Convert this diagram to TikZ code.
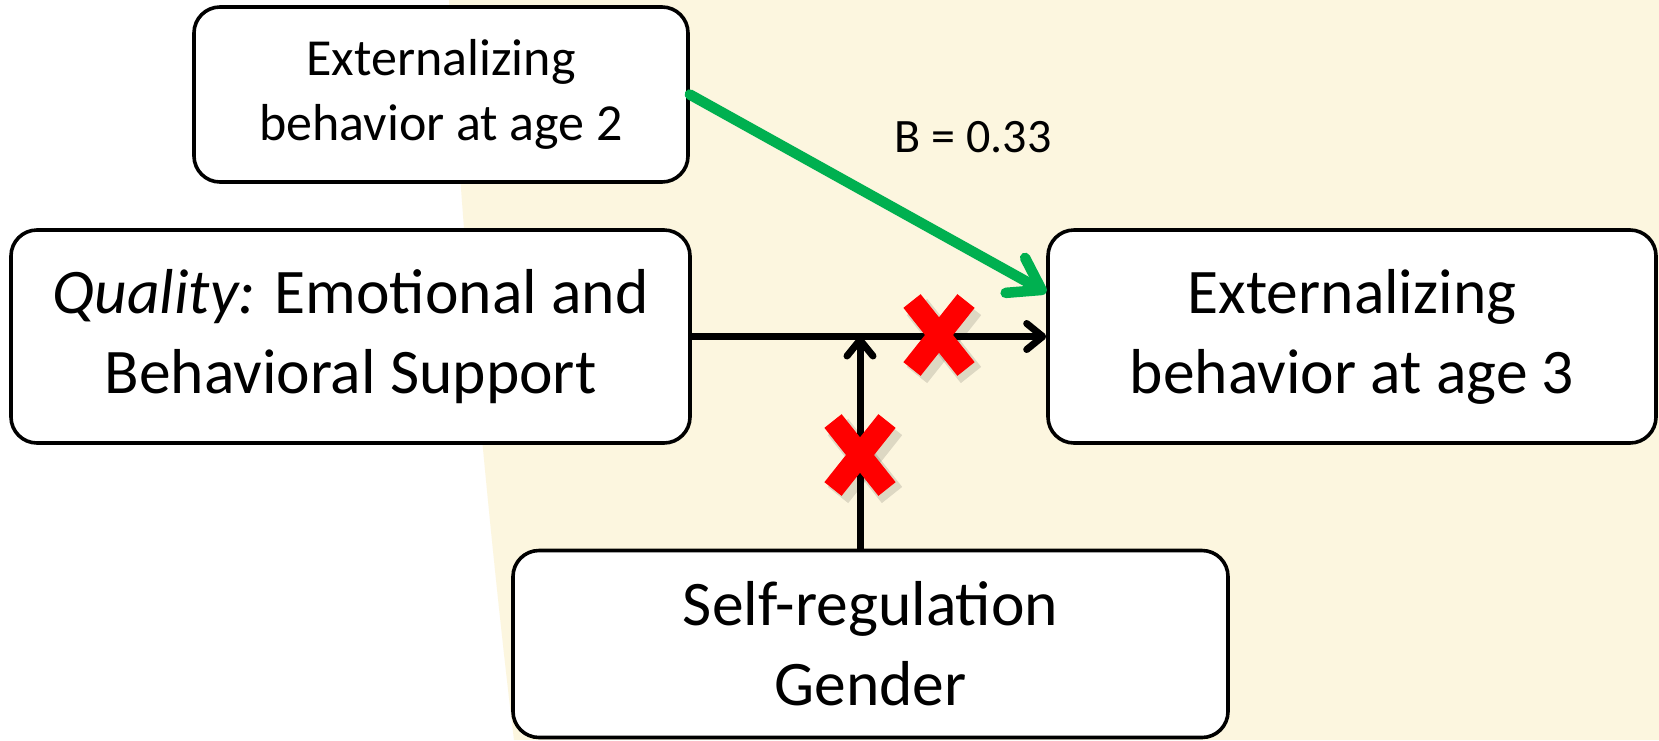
\documentclass[tikz,border=0pt]{standalone}
\usepackage{fontspec}
\setmainfont{Carlito}
\usetikzlibrary{arrows.meta}
\definecolor{cream}{RGB}{252,246,223}
\definecolor{pptgreen}{RGB}{0,176,80}
\tikzset{
  box/.style={draw, line width=3.6pt, rounded corners=26pt, fill=white, align=center, inner sep=0pt},
  bigtext/.style={font=\fontsize{63.5}{80}\selectfont},
  smalltext/.style={font=\fontsize{52}{65}\selectfont},
  link/.style={line width=7pt, -{Straight Barb[length=16pt,width=26pt,round]}},
  effect/.style={pptgreen, line width=10.5pt, line cap=round, -{Straight Barb[length=30pt,width=40pt,round]}},
  crossbar/.style={red, line width=22pt},
  crossshade/.style={black, opacity=0.12, line width=26pt}
}
\begin{document}
\begin{tikzpicture}[x=1pt,y=-1pt]
        \useasboundingbox (0,0) rectangle (1659,740);
        \fill[white] (0,0) rectangle (1659,740);
        \fill[cream] (449,0) .. controls (462,250) and (492,560) .. (514,740) -- (1659,740) -- (1659,0) -- cycle;
        % boxes
        \node[box, smalltext, minimum width=494pt, minimum height=175pt] (agetwo) at (441,94.5) {Externalizing\\behavior at age 2};
        \foreach \x/\y/\w/\h/\n/\l in {350.5/336.5/679/213/quality/{\textit{Quality:} Emotional and\\Behavioral Support},1352/336.5/608/213/agethree/{Externalizing\\behavior at age 3},870.5/644/715/187/selfreg/{Self-regulation\\Gender}}{
            \node[box, bigtext, minimum width=\w pt, minimum height=\h pt] (\n) at (\x,\y) {\l};
        }
        % paths
        \coordinate (mod) at (860,336.5);
        \draw[link] (quality) -- (agethree);
        \draw[link] (selfreg.north -| mod) -- (mod);
        \draw[effect] (agetwo.east) -- ([yshift=44pt]agethree.west);
        \node[font=\fontsize{48}{58}\selectfont] (coef) at (973,137) {B = 0.33};
        % non-significant paths
        \foreach \n/\x/\y in {crossa/939/335,crossb/860/455}{
            \coordinate (\n) at (\x,\y);
            \draw[crossshade] ([shift={(-22,-28)}]\n) -- ([shift={(32,40)}]\n);
            \draw[crossshade] ([shift={(32,-28)}]\n) -- ([shift={(-22,40)}]\n);
            \draw[crossbar] ([shift={(-27,-34)}]\n) -- ([shift={(27,34)}]\n);
            \draw[crossbar] ([shift={(27,-34)}]\n) -- ([shift={(-27,34)}]\n);
        }
\end{tikzpicture}
\end{document}
